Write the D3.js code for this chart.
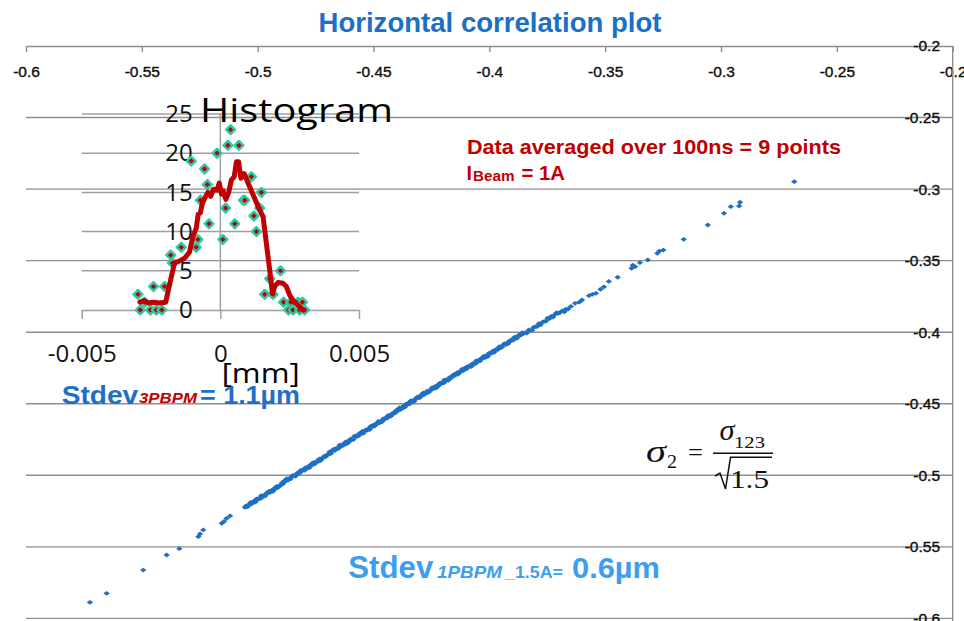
<!DOCTYPE html>
<html>
<head>
<meta charset="utf-8">
<script src="https://cdn.jsdelivr.net/npm/d3@7"></script>
<style>
  html, body { margin: 0; padding: 0; background: #fff; }
  svg { display: block; }
</style>
</head>
<body>
<svg id="chart" width="964" height="621"></svg>
<script>
// ---- Main correlation plot: axis ticks ----
const xTicks = [-0.6, -0.55, -0.5, -0.45, -0.4, -0.35, -0.3, -0.25, -0.2];
const yTicks = [-0.2, -0.25, -0.3, -0.35, -0.4, -0.45, -0.5, -0.55, -0.6];

// ---- Main correlation plot: beam positions [x, y] (mm) ----
const sparseLow = [
  [-0.5724,-0.5888],[-0.5652,-0.5825],[-0.5494,-0.5662],[-0.5393,-0.5557],[-0.5338,-0.5513],
  [-0.5256,-0.5429],[-0.5249,-0.5410],[-0.5235,-0.5382],[-0.5155,-0.5335],[-0.5145,-0.5322],
  [-0.5134,-0.5301],[-0.5119,-0.5284],[-0.5055,-0.5224]
];
const denseBand = [
  [-0.5050,-0.5213],[-0.5044,-0.5220],[-0.5041,-0.5207],[-0.5035,-0.5206],[-0.5030,-0.5189],[-0.5026,-0.5200],
  [-0.5019,-0.5187],[-0.5015,-0.5179],[-0.5010,-0.5188],[-0.5004,-0.5165],[-0.4999,-0.5169],[-0.4993,-0.5158],
  [-0.4988,-0.5163],[-0.4984,-0.5142],[-0.4977,-0.5149],[-0.4972,-0.5139],[-0.4968,-0.5145],[-0.4961,-0.5123],
  [-0.4957,-0.5126],[-0.4950,-0.5110],[-0.4946,-0.5119],[-0.4940,-0.5106],[-0.4934,-0.5113],[-0.4930,-0.5094],
  [-0.4923,-0.5094],[-0.4918,-0.5077],[-0.4912,-0.5086],[-0.4906,-0.5073],[-0.4901,-0.5071],
  [-0.4895,-0.5052],[-0.4891,-0.5060],[-0.4884,-0.5038],[-0.4880,-0.5042],[-0.4874,-0.5024],[-0.4869,-0.5034],
  [-0.4863,-0.5022],[-0.4858,-0.5025],[-0.4852,-0.5008],[-0.4848,-0.5000],[-0.4841,-0.5004],[-0.4837,-0.5007],
  [-0.4830,-0.4985],[-0.4826,-0.4986],[-0.4820,-0.4986],[-0.4815,-0.4966],[-0.4809,-0.4970],[-0.4804,-0.4961],
  [-0.4798,-0.4966],[-0.4793,-0.4946],[-0.4787,-0.4951],[-0.4783,-0.4941],[-0.4776,-0.4947],[-0.4772,-0.4926],
  [-0.4765,-0.4927],[-0.4761,-0.4911],[-0.4755,-0.4922],[-0.4749,-0.4908],[-0.4744,-0.4900],[-0.4739,-0.4904],
  [-0.4733,-0.4885],[-0.4728,-0.4897],[-0.4722,-0.4879],[-0.4717,-0.4878],[-0.4711,-0.4865],[-0.4706,-0.4870],
  [-0.4701,-0.4859],
  [-0.4695,-0.4853],[-0.4690,-0.4837],[-0.4684,-0.4848],[-0.4679,-0.4831],[-0.4674,-0.4819],[-0.4668,-0.4828],
  [-0.4663,-0.4813],[-0.4657,-0.4812],[-0.4652,-0.4814],[-0.4647,-0.4790],[-0.4641,-0.4798],[-0.4636,-0.4785],
  [-0.4630,-0.4791],[-0.4625,-0.4778],[-0.4620,-0.4766],[-0.4614,-0.4779],[-0.4609,-0.4760],[-0.4603,-0.4762],
  [-0.4598,-0.4746],[-0.4593,-0.4747],[-0.4587,-0.4750],[-0.4582,-0.4726],[-0.4576,-0.4732],[-0.4571,-0.4721],
  [-0.4566,-0.4726],[-0.4560,-0.4707],[-0.4555,-0.4712],[-0.4549,-0.4694],[-0.4544,-0.4706],[-0.4539,-0.4692],
  [-0.4533,-0.4682],[-0.4528,-0.4686],[-0.4522,-0.4674],[-0.4517,-0.4681],[-0.4512,-0.4658],[-0.4506,-0.4661],
  [-0.4501,-0.4649],[-0.4495,-0.4656],[-0.4490,-0.4641],[-0.4485,-0.4641],[-0.4479,-0.4623],[-0.4474,-0.4633],
  [-0.4468,-0.4621],[-0.4463,-0.4626],[-0.4458,-0.4605],[-0.4452,-0.4609],[-0.4447,-0.4597],[-0.4441,-0.4601],
  [-0.4436,-0.4581],[-0.4431,-0.4586],[-0.4425,-0.4587],[-0.4420,-0.4569],[-0.4414,-0.4570],[-0.4409,-0.4557],
  [-0.4404,-0.4562],
  [-0.4398,-0.4542],[-0.4393,-0.4546],[-0.4387,-0.4528],[-0.4382,-0.4540],[-0.4377,-0.4526],[-0.4371,-0.4517],
  [-0.4366,-0.4526],[-0.4360,-0.4503],[-0.4355,-0.4507],[-0.4350,-0.4495],[-0.4344,-0.4500],[-0.4339,-0.4479],
  [-0.4333,-0.4487],[-0.4328,-0.4476],[-0.4323,-0.4482],[-0.4317,-0.4464],[-0.4312,-0.4454],[-0.4306,-0.4457],
  [-0.4301,-0.4458],[-0.4296,-0.4440],[-0.4290,-0.4443],[-0.4285,-0.4424],[-0.4279,-0.4434],[-0.4274,-0.4424],
  [-0.4269,-0.4412],[-0.4263,-0.4421],[-0.4258,-0.4406],[-0.4252,-0.4406],[-0.4247,-0.4388],[-0.4242,-0.4394],
  [-0.4236,-0.4381],[-0.4231,-0.4391],[-0.4225,-0.4372],[-0.4220,-0.4376],[-0.4215,-0.4357],[-0.4209,-0.4360],
  [-0.4204,-0.4350],[-0.4198,-0.4355],[-0.4193,-0.4333],[-0.4188,-0.4341],[-0.4182,-0.4331],[-0.4177,-0.4336],
  [-0.4171,-0.4315],[-0.4166,-0.4321],[-0.4161,-0.4309],[-0.4155,-0.4297],[-0.4150,-0.4304],[-0.4144,-0.4295],
  [-0.4139,-0.4282],[-0.4134,-0.4292],[-0.4128,-0.4275],[-0.4123,-0.4275],[-0.4117,-0.4258],[-0.4112,-0.4268],
  [-0.4106,-0.4252],
  [-0.4100,-0.4258],[-0.4095,-0.4240],[-0.4089,-0.4244],[-0.4084,-0.4234],[-0.4078,-0.4240],[-0.4073,-0.4220],
  [-0.4067,-0.4219],[-0.4062,-0.4222],[-0.4056,-0.4199],[-0.4051,-0.4208],[-0.4045,-0.4196],[-0.4040,-0.4201],
  [-0.4034,-0.4182],[-0.4029,-0.4183],[-0.4023,-0.4167],[-0.4018,-0.4177],[-0.4012,-0.4162],[-0.4007,-0.4170],
  [-0.4001,-0.4147],[-0.3996,-0.4149],[-0.3990,-0.4146],[-0.3985,-0.4132],[-0.3979,-0.4140],[-0.3974,-0.4123],
  [-0.3968,-0.4120],[-0.3963,-0.4121],[-0.3957,-0.4101],[-0.3952,-0.4107],[-0.3946,-0.4106],[-0.3941,-0.4091],
  [-0.3935,-0.4080],[-0.3930,-0.4087],[-0.3924,-0.4076],[-0.3919,-0.4081],[-0.3913,-0.4060],[-0.3908,-0.4063],
  [-0.3902,-0.4051],[-0.3897,-0.4056],[-0.3891,-0.4034],[-0.3886,-0.4040],[-0.3880,-0.4041],[-0.3875,-0.4023],
  [-0.3869,-0.4020],[-0.3864,-0.4021],[-0.3858,-0.4004],[-0.3853,-0.4009],
  [-0.3845,-0.4003],[-0.3838,-0.4006],[-0.3830,-0.3984],[-0.3823,-0.3987],[-0.3815,-0.3986],[-0.3809,-0.3966],
  [-0.3800,-0.3961],[-0.3794,-0.3960],[-0.3786,-0.3941],[-0.3779,-0.3949],[-0.3770,-0.3929],[-0.3764,-0.3926],
  [-0.3755,-0.3922],[-0.3749,-0.3902],[-0.3740,-0.3905],[-0.3733,-0.3889],[-0.3725,-0.3894],[-0.3717,-0.3877],
  [-0.3710,-0.3864],[-0.3702,-0.3868],[-0.3694,-0.3862],[-0.3686,-0.3851],[-0.3671,-0.3840]
];
const sparseHigh = [
  [-0.3676,-0.3857],[-0.3660,-0.3838],[-0.3648,-0.3820],[-0.3630,-0.3798],[-0.3612,-0.3790],
  [-0.3600,-0.3775],[-0.3570,-0.3745],[-0.3555,-0.3735],[-0.3540,-0.3728],[-0.3520,-0.3700],
  [-0.3505,-0.3683],[-0.3484,-0.3645],[-0.3446,-0.3616],[-0.3386,-0.3553],[-0.3381,-0.3532],
  [-0.3371,-0.3542],[-0.3350,-0.3514],[-0.3316,-0.3495],[-0.3275,-0.3449],[-0.3266,-0.3433],
  [-0.3249,-0.3426],[-0.3161,-0.3351],[-0.3057,-0.3251],[-0.2987,-0.3169],[-0.2958,-0.3123],
  [-0.2922,-0.3118],[-0.2918,-0.3092],[-0.2684,-0.2948]
];

// ---- Inset histogram of residuals (mm) ----
const histTicksX = [-0.005, 0, 0.005];
const histTicksY = [0, 5, 10, 15, 20, 25];
const histX = [-0.00297,-0.00289,-0.00273,-0.00252,-0.00241,-0.00231,-0.00211,-0.00201,-0.00179,-0.00173,
  -0.00141,-0.00105,-0.00087,-0.00081,-0.00072,-0.00057,-0.00047,-0.00041,-0.00012,0.00009,
  0.00019,0.00027,0.00037,0.00052,0.00067,0.00083,0.00088,0.00112,0.00121,0.00130,
  0.00142,0.00148,0.00160,0.00178,0.00190,0.00217,0.00228,0.00246,0.00254,0.00262,
  0.00280,0.00286,0.00296,0.00304];
const histCount = [2,0,1,0,3,0,0,3,7,6,
  8,19,8,9,14,18,16,11,20,9,
  13,21,23,11,21,14,14,17,12,10,
  13,15,2,4,2,5,1,0,1,0,
  1,0,1,0];
// moving average of the histogram counts
const avgX = [-0.00290,-0.00275,-0.00260,-0.00240,-0.00220,-0.00197,-0.00177,-0.00165,-0.00150,-0.00129,
  -0.00111,-0.00099,-0.00087,-0.00080,-0.00072,-0.00065,-0.00057,-0.00045,-0.00035,-0.00025,
  -0.00012,-0.00004,0.00004,0.00010,0.00020,0.00030,0.00040,0.00050,0.00058,0.00066,
  0.00074,0.00080,0.00086,0.00100,0.00118,0.00136,0.00154,0.00178,0.00188,0.00196,
  0.00208,0.00226,0.00238,0.00250,0.00265,0.00280,0.00298];
const avgCount = [1.0,1.2,0.9,1.0,0.9,1.0,4.2,6.0,6.2,6.6,
  7.4,9.4,10.4,12.2,12.4,13.6,14.2,15.0,14.5,15.4,
  15.3,16.2,14.8,15.2,14.1,15.0,16.6,17.0,18.9,18.9,
  16.8,17.0,17.4,16.2,14.7,13.2,11.9,5.1,2.1,3.0,
  3.5,3.4,3.0,1.9,1.1,0.6,0.0];

// ---- drawing ----
const W = 964, H = 621;
const svg = d3.select("#chart");
const sans = "'Liberation Sans', Arial, Helvetica, sans-serif";
const hsans = "'Open Sans', 'Noto Sans', sans-serif";
const serif = "'Liberation Serif', 'Times New Roman', serif";
const gridGrey = "#8e8e8e";

function addText(x0, yb, txt, o) {
  const t = svg.append("text")
    .attr("x", x0).attr("y", yb).text(txt)
    .attr("font-family", o.family || sans)
    .attr("font-size", o.size)
    .attr("font-weight", o.weight || "normal")
    .attr("font-style", o.style || "normal")
    .attr("fill", o.fill || "#000");
  if (o.width) t.attr("textLength", o.width).attr("lengthAdjust", "spacingAndGlyphs");
  if (o.anchor) t.attr("text-anchor", o.anchor);
  return t;
}

// main scales
const x = d3.scaleLinear().domain([-0.6, -0.2]).range([26, 952.7]);
const y = d3.scaleLinear().domain([-0.2, -0.6]).range([46, 618.4]);

// horizontal gridlines
svg.append("g").selectAll("line")
  .data(yTicks.filter(d => d !== -0.2)).join("line")
  .attr("x1", x(-0.6)).attr("x2", x(-0.2))
  .attr("y1", d => y(d)).attr("y2", d => y(d))
  .attr("stroke", gridGrey).attr("stroke-width", 1.4);

// x axis along the top edge, ticks pointing into the plot
const gx = svg.append("g").attr("transform", `translate(0,${y(-0.2)})`)
  .call(d3.axisBottom(x).tickValues(xTicks).tickFormat(d => String(d))
    .tickSize(6).tickSizeOuter(0).tickPadding(14));
gx.select(".domain").attr("stroke", gridGrey).attr("stroke-width", 1.4);
gx.selectAll(".tick line").attr("stroke", gridGrey).attr("stroke-width", 1.4);
gx.selectAll("text").attr("font-family", sans).attr("font-size", 15.5).attr("fill", "#111")
  .attr("stroke", "#111").attr("stroke-width", 0.4);

// y axis on the right, labels inside the plot area
svg.append("line")
  .attr("x1", x(-0.2)).attr("x2", x(-0.2)).attr("y1", y(-0.2)).attr("y2", H)
  .attr("stroke", gridGrey).attr("stroke-width", 1.4);
const gy = svg.append("g").attr("transform", `translate(${x(-0.2)},0)`)
  .call(d3.axisLeft(y).tickValues(yTicks).tickFormat(d => String(d))
    .tickSize(0).tickPadding(12.7));
gy.select(".domain").remove();
gy.selectAll("text").attr("font-family", sans).attr("font-size", 15.5).attr("fill", "#111")
  .attr("stroke", "#111").attr("stroke-width", 0.4);

// scatter of beam positions
const dot = (cx, cy) => `M${cx - 3.2},${cy}L${cx},${cy - 2.4}L${cx + 3.2},${cy}L${cx},${cy + 2.4}Z`;
svg.append("g").selectAll("path")
  .data(sparseLow.concat(denseBand, sparseHigh)).join("path")
  .attr("d", d => dot(x(d[0]), y(d[1])))
  .attr("fill", "#1f6fc2");

// ---- inset histogram ----
const hx = d3.scaleLinear().domain([-0.005, 0.005]).range([81.7, 359]);
const hy = d3.scaleLinear().domain([0, 25]).range([310, 114]);
const histGrey = "#a0a0a0";

svg.append("g").selectAll("line")
  .data(histTicksY.filter(d => d !== 0)).join("line")
  .attr("x1", hx(-0.005)).attr("x2", hx(0.005))
  .attr("y1", d => hy(d)).attr("y2", d => hy(d))
  .attr("stroke", histGrey).attr("stroke-width", 1.5);

const hgx = svg.append("g").attr("transform", `translate(0,${hy(0)})`)
  .call(d3.axisBottom(hx).tickValues(histTicksX).tickFormat(d => String(d))
    .tickSize(9).tickSizeOuter(0).tickPadding(26));
hgx.select(".domain").attr("stroke", histGrey).attr("stroke-width", 1.5);
hgx.selectAll(".tick line").attr("stroke", histGrey).attr("stroke-width", 1.5);
hgx.selectAll("text").attr("font-family", hsans).attr("font-size", 24).attr("fill", "#111");

svg.append("line")
  .attr("x1", hx(0)).attr("x2", hx(0)).attr("y1", hy(25)).attr("y2", hy(0))
  .attr("stroke", histGrey).attr("stroke-width", 1.5);

const hgy = svg.append("g").attr("transform", `translate(${hx(0)},0)`)
  .call(d3.axisLeft(hy).tickValues(histTicksY).tickFormat(d => String(d))
    .tickSize(0).tickPadding(27.7));
hgy.select(".domain").remove();
hgy.selectAll("text").attr("font-family", hsans).attr("font-size", 24).attr("fill", "#111");

// histogram counts as diamond markers
const diamond = (cx, cy, r) => `M${cx},${cy - r}L${cx + r},${cy}L${cx},${cy + r}L${cx - r},${cy}Z`;
svg.append("g").selectAll("path")
  .data(histX.map((v, i) => [v, histCount[i]])).join("path")
  .attr("d", d => diamond(hx(d[0]), hy(d[1]), 4.4))
  .attr("fill", "#c00000").attr("stroke", "#2cc9a2").attr("stroke-width", 2.4)
  .attr("stroke-linejoin", "round");

// moving-average curve
svg.append("path")
  .datum(avgX.map((v, i) => [v, avgCount[i]]))
  .attr("d", d3.line().x(d => hx(d[0])).y(d => hy(d[1])))
  .attr("fill", "none").attr("stroke", "#c00000").attr("stroke-width", 5)
  .attr("stroke-linejoin", "round").attr("stroke-linecap", "round");

// ---- texts ----
addText(318.5, 32.3, "Horizontal correlation plot", { size: 28.5, weight: "bold", fill: "#1b6fc6", width: 343 });

addText(200, 122.3, "Histogram", { family: hsans, size: 33, fill: "#000", width: 193 });

addText(467, 153.5, "Data averaged over 100ns = 9 points", { size: 20.5, weight: "bold", fill: "#c00000", width: 374 });
addText(466.5, 180, "I", { size: 20, weight: "bold", fill: "#c00000", width: 5.5 });
addText(473, 180.5, "Beam", { size: 14, weight: "bold", fill: "#c00000", width: 41.5 });
addText(521.5, 180, "= 1A", { size: 20, weight: "bold", fill: "#c00000", width: 43.5 });

addText(61.7, 404, "Stdev", { size: 26, weight: "bold", fill: "#1f6fc6", width: 76.5 });
addText(139, 403, "3PBPM", { size: 15, weight: "bold", style: "italic", fill: "#c00000", width: 58 });
addText(200, 404, "= 1.1µm", { size: 26, weight: "bold", fill: "#1f6fc6", width: 100 });

addText(221.7, 383, "[mm]", { family: hsans, size: 27, fill: "#000", width: 78 });

addText(348.3, 578, "Stdev", { size: 31, weight: "bold", fill: "#3d9df0", width: 85 });
addText(437, 577.5, "1PBPM", { size: 17, weight: "bold", style: "italic", fill: "#3d9df0", width: 65 });
addText(505, 577.5, "_1.5A=", { size: 17, weight: "bold", fill: "#3d9df0", width: 58 });
addText(572, 577.5, "0.6µm", { size: 30, weight: "bold", fill: "#3d9df0", width: 88 });

// sigma_2 = sigma_123 / sqrt(1.5)
addText(646, 461.5, "σ", { family: serif, size: 32, style: "italic", fill: "#111", width: 20 });
addText(667, 467.5, "2", { family: serif, size: 18, fill: "#111", width: 10 });
addText(688, 461, "=", { family: serif, size: 26, fill: "#111", width: 15 });
addText(719.5, 440, "σ", { family: serif, size: 29, style: "italic", fill: "#111", width: 15 });
addText(734, 447.5, "123", { family: serif, size: 16, fill: "#111", width: 31 });
svg.append("line").attr("x1", 713).attr("x2", 773).attr("y1", 453.3).attr("y2", 453.3)
  .attr("stroke", "#111").attr("stroke-width", 1.6);
svg.append("path").attr("d", "M715,476L720,473L725.5,489L730.5,457.3L772,457.3")
  .attr("fill", "none").attr("stroke", "#111").attr("stroke-width", 1.5).attr("stroke-linejoin", "miter");
addText(730, 488.3, "1.5", { family: serif, size: 26, fill: "#111", width: 39 });
</script>
</body>
</html>
